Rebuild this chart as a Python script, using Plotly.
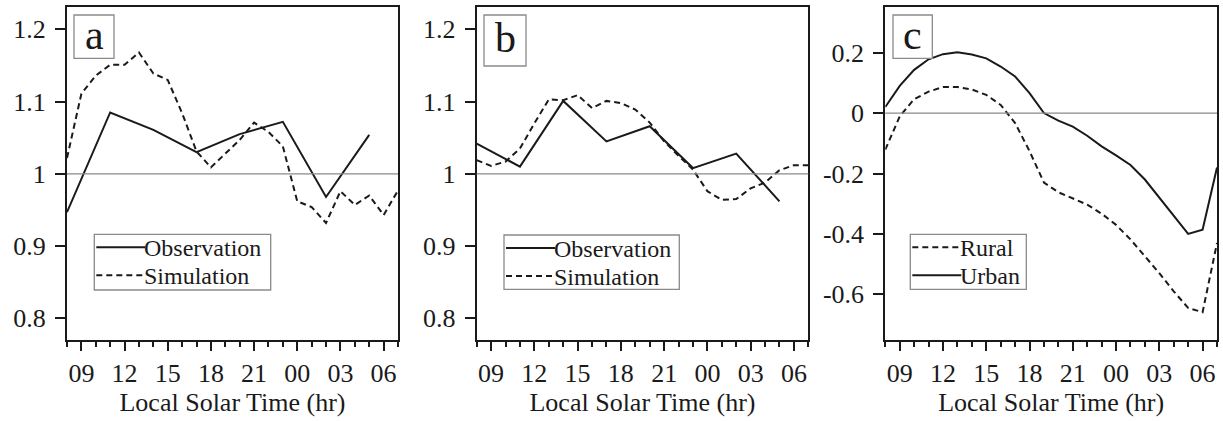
import plotly.graph_objects as go
from plotly.subplots import make_subplots

W, H = 1223, 421

# ---------------- data ----------------
hours_hourly = list(range(8, 32))          # 08 .. 07 next day (hour 24 = 00)
hours_obs = [8, 11, 14, 17, 20, 23, 26, 29]

x_tickvals = [9, 12, 15, 18, 21, 24, 27, 30]
x_ticktext = ["09", "12", "15", "18", "21", "00", "03", "06"]

a_obs = [0.947, 1.085, 1.061, 1.030, 1.055, 1.072, 0.968, 1.054]
a_sim = [1.022, 1.111, 1.136, 1.151, 1.151, 1.168, 1.139, 1.130, 1.084, 1.031,
         1.009, 1.028, 1.047, 1.071, 1.058, 1.038, 0.962, 0.954, 0.932, 0.976,
         0.957, 0.970, 0.943, 0.977]

b_obs = [1.042, 1.010, 1.101, 1.045, 1.066, 1.008, 1.028, 0.962]
b_sim = [1.019, 1.011, 1.017, 1.035, 1.070, 1.103, 1.102, 1.109, 1.091, 1.101,
         1.098, 1.089, 1.071, 1.045, 1.025, 1.006, 0.976, 0.964, 0.965, 0.980,
         0.988, 1.005, 1.012, 1.012]

c_urban = [0.020, 0.090, 0.143, 0.178, 0.195, 0.201, 0.194, 0.181, 0.154, 0.121,
           0.066, 0.000, -0.025, -0.045, -0.075, -0.110, -0.140, -0.172, -0.220,
           -0.280, -0.340, -0.400, -0.386, -0.180]
c_rural = [-0.121, -0.011, 0.046, 0.071, 0.086, 0.086, 0.078, 0.060, 0.027, -0.033,
           -0.126, -0.230, -0.262, -0.283, -0.303, -0.333, -0.370, -0.418, -0.474,
           -0.530, -0.590, -0.645, -0.659, -0.430]

ab_ytickvals = [0.8, 0.9, 1.0, 1.1, 1.2]
ab_yticktext = ["0.8", "0.9", "1", "1.1", "1.2"]
c_ytickvals = [-0.6, -0.4, -0.2, 0.0, 0.2]
c_yticktext = ["-0.6", "-0.4", "-0.2", "0", "0.2"]

panel_labels = ["a", "b", "c"]
x_title = "Local Solar Time (hr)"

# ---------------- layout helpers ----------------
FONT = "Liberation Serif, Times New Roman, serif"
INK = "#1a1a1a"
GRAY = "#8a8a8a"
FS = 26
LEG_FS = 24

def px(x):
    return x / W

def py(y):
    return 1 - y / H

domains_x = [(67, 398), (476.7, 808.3), (885.3, 1217)]
dom_y = (7, 340)

fig = make_subplots(rows=1, cols=3)

solid = dict(color=INK, width=2)
dashed = dict(color=INK, width=2, dash="6px,4px")

fig.add_trace(go.Scatter(x=hours_obs, y=a_obs, mode="lines", line=solid,
                         name="Observation", showlegend=False), 1, 1)
fig.add_trace(go.Scatter(x=hours_hourly, y=a_sim, mode="lines", line=dashed,
                         name="Simulation", showlegend=False), 1, 1)
fig.add_trace(go.Scatter(x=hours_obs, y=b_obs, mode="lines", line=solid,
                         name="Observation", showlegend=False), 1, 2)
fig.add_trace(go.Scatter(x=hours_hourly, y=b_sim, mode="lines", line=dashed,
                         name="Simulation", showlegend=False), 1, 2)
fig.add_trace(go.Scatter(x=hours_hourly, y=c_rural, mode="lines", line=dashed,
                         name="Rural", showlegend=False), 1, 3)
fig.add_trace(go.Scatter(x=hours_hourly, y=c_urban, mode="lines", line=solid,
                         name="Urban", showlegend=False), 1, 3)

yranges = [(0.77, 1.231), (0.77, 1.231), (-0.751, 0.351)]
ytv = [ab_ytickvals, ab_ytickvals, c_ytickvals]
ytt = [ab_yticktext, ab_yticktext, c_yticktext]
refs = [1.0, 1.0, 0.0]

for i in range(3):
    xa = "xaxis" if i == 0 else f"xaxis{i+1}"
    ya = "yaxis" if i == 0 else f"yaxis{i+1}"
    x0, x1 = domains_x[i]
    fig.layout[xa].update(
        domain=[px(x0), px(x1)], range=[8, 31],
        tickmode="array", tickvals=x_tickvals, ticktext=x_ticktext,
        ticks="outside", ticklen=9, tickwidth=2, tickcolor=INK,
        minor=dict(dtick=1, tick0=0, ticks="outside", ticklen=5, tickwidth=1.5,
                   tickcolor=INK, showgrid=False),
        showline=True, linewidth=2, linecolor=INK, mirror=True,
        showgrid=False, zeroline=False,
        tickfont=dict(family=FONT, size=FS, color=INK),
        ticklabelstandoff=0,
        title=dict(text=x_title, font=dict(family=FONT, size=FS, color=INK), standoff=0),
    )
    fig.layout[ya].update(
        domain=[py(dom_y[1]), py(dom_y[0])], range=list(yranges[i]),
        tickmode="array", tickvals=ytv[i], ticktext=ytt[i],
        ticks="outside", ticklen=10, tickwidth=2, tickcolor=INK,
        showline=True, linewidth=2, linecolor=INK, mirror=True,
        showgrid=False, zeroline=False,
        tickfont=dict(family=FONT, size=FS, color=INK),
        ticklabelstandoff=4,
    )
    fig.add_hline(y=refs[i], row=1, col=i + 1, line=dict(color=GRAY, width=1.3))

# panel letter boxes
label_boxes = [(74, 15, 114, 58.3), (484, 15, 526, 66), (893, 15, 932.3, 58.3)]
for lab, (bx0, by0, bx1, by1) in zip(panel_labels, label_boxes):
    fig.add_shape(type="rect", xref="paper", yref="paper",
                  x0=px(bx0), x1=px(bx1), y0=py(by1), y1=py(by0),
                  line=dict(color=GRAY, width=1.3), fillcolor="white", layer="above")
    fig.add_annotation(xref="paper", yref="paper", x=px((bx0 + bx1) / 2),
                       y=py((by0 + by1) / 2 - 2), text=lab, showarrow=False,
                       xanchor="center", yanchor="middle",
                       font=dict(family=FONT, size=42, color=INK))

# legends (drawn manually to match original look)
legend_specs = [
    ((94.3, 234.3, 270.7, 290), 145, [("Observation", solid), ("Simulation", dashed)]),
    ((504, 235, 679.3, 289.3), 555, [("Observation", solid), ("Simulation", dashed)]),
    ((910.3, 234.3, 1026.3, 289.3), 961.3, [("Rural", dashed), ("Urban", solid)]),
]
for (bx0, by0, bx1, by1), tx, entries in legend_specs:
    fig.add_shape(type="rect", xref="paper", yref="paper",
                  x0=px(bx0), x1=px(bx1), y0=py(by1), y1=py(by0),
                  line=dict(color=GRAY, width=1.3), fillcolor="white", layer="above")
    for k, (name, ln) in enumerate(entries):
        ly = by0 + 13 + 28 * k
        fig.add_shape(type="line", xref="paper", yref="paper",
                      x0=px(bx0 + 2), x1=px(tx), y0=py(ly), y1=py(ly),
                      line=ln, layer="above")
        fig.add_annotation(xref="paper", yref="paper", x=px(tx - 3), y=py(ly + 1),
                           text=name, showarrow=False, xanchor="left",
                           yanchor="middle",
                           font=dict(family=FONT, size=LEG_FS, color=INK))

fig.update_layout(
    width=W, height=H, margin=dict(l=0, r=0, t=0, b=0),
    paper_bgcolor="white", plot_bgcolor="white",
    font=dict(family=FONT, size=FS, color=INK),
    showlegend=False,
)

fig.write_html("out.html")
